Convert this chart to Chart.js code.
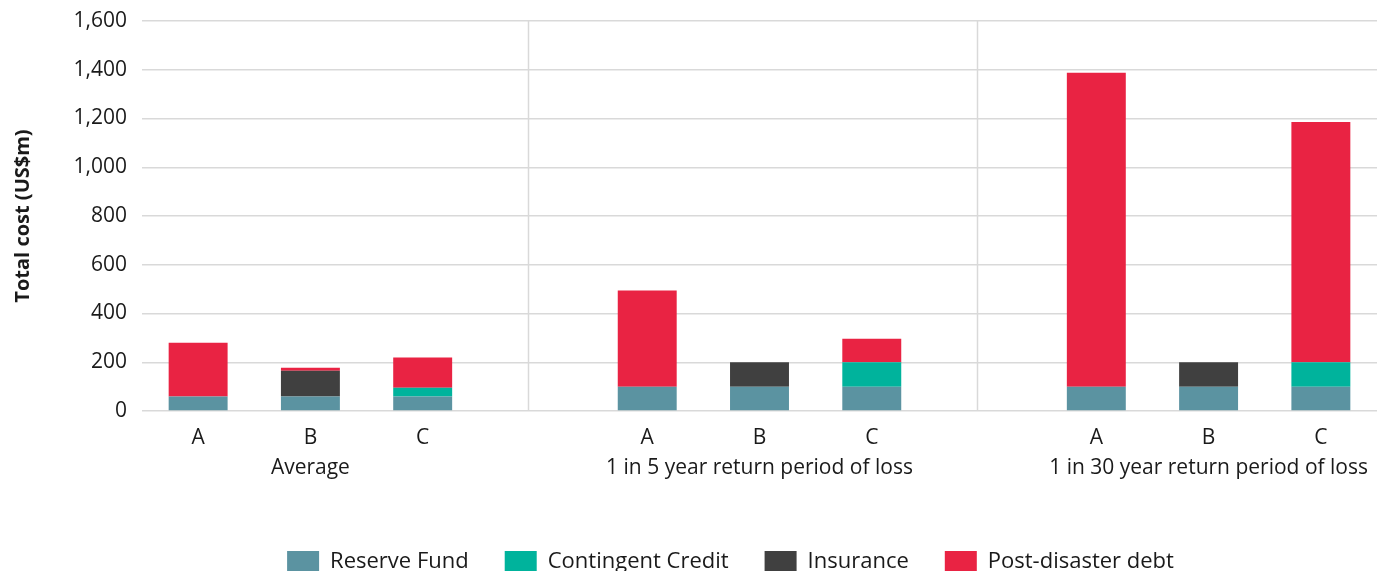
<!DOCTYPE html>
<html>
<head>
<meta charset="utf-8">
<script src="https://cdn.jsdelivr.net/npm/chart.js@4/dist/chart.umd.min.js"></script>
<style>
  html, body { margin: 0; padding: 0; background: #fff; }
  #wrap { width: 1391px; height: 571px; position: relative; }
</style>
</head>
<body>
<div id="wrap"><canvas id="c"></canvas></div>
<script>
// ---- data ----
const categories = ['A', 'B', 'C', '', 'A', 'B', 'C', '', 'A', 'B', 'C'];
const groupLabels = ['', 'Average', '', '', '', '1 in 5 year return period of loss', '', '', '', '1 in 30 year return period of loss', ''];
const reserveFund = [60, 60, 60, null, 100, 100, 100, null, 100, 100, 100];
const contingentCredit = [0, 0, 35, null, 0, 0, 100, null, 0, 0, 100];
const insurance = [0, 105, 0, null, 0, 100, 0, null, 0, 100, 0];
const postDisasterDebt = [220, 12, 124, null, 394, 0, 96, null, 1288, 0, 986];
const yTicks = [0, 200, 400, 600, 800, 1000, 1200, 1400, 1600];

const FONT = "'Open Sans', 'Noto Sans', sans-serif";

const separatorPlugin = {
  id: 'separators',
  afterLayout(chart) {
    // nudge the legend a little to the left, as in the reference
    const l = chart.legend;
    if (l) { l.left -= 29; l.right -= 29; }
  },
  beforeDatasetsDraw(chart) {
    const xs = chart.scales.x;
    const ca = chart.chartArea;
    const ctx = chart.ctx;
    ctx.save();
    ctx.strokeStyle = '#d9d9d9';
    ctx.lineWidth = 1.5;
    [2.94, 6.94].forEach(v => {
      const px = Math.round(xs.getPixelForValue(v)) + 0.5;
      ctx.beginPath();
      ctx.moveTo(px, ca.top);
      ctx.lineTo(px, ca.bottom);
      ctx.stroke();
    });
    ctx.restore();
  }
};

new Chart(document.getElementById('c'), {
  type: 'bar',
  data: {
    labels: categories,
    datasets: [
      { label: 'Reserve Fund', data: reserveFund, backgroundColor: '#5b93a1' },
      { label: 'Contingent Credit', data: contingentCredit, backgroundColor: '#00b39c' },
      { label: 'Insurance', data: insurance, backgroundColor: '#404040' },
      { label: 'Post-disaster debt', data: postDisasterDebt, backgroundColor: '#e92343' }
    ]
  },
  options: {
    responsive: true,
    maintainAspectRatio: false,
    animation: false,
    datasets: { bar: { barPercentage: 1, categoryPercentage: 0.525, borderWidth: 0 } },
    layout: { padding: { top: 0, right: 14, left: 0, bottom: -12 } },
    plugins: {
      tooltip: { enabled: false },
      legend: {
        position: 'bottom',
        fullSize: false,
        labels: {
          boxWidth: 32,
          boxHeight: 22,
          padding: 36,
          color: '#1a1a1a',
          font: { family: FONT, size: 22 }
        }
      }
    },
    scales: {
      x: {
        stacked: true,
        offset: true,
        weight: 0,
        grid: { display: false, drawTicks: false },
        border: { display: false },
        ticks: { color: '#1a1a1a', padding: 14, maxRotation: 0, autoSkip: false, font: { family: FONT, size: 21 } },
        afterFit(axis) { axis.height = 44; }
      },
      x2: {
        type: 'category',
        labels: groupLabels,
        position: 'bottom',
        offset: true,
        weight: 1,
        grid: { display: false, drawTicks: false },
        border: { display: false },
        ticks: { color: '#1a1a1a', padding: 0, maxRotation: 0, autoSkip: false, font: { family: FONT, size: 21 } },
        afterFit(axis) { axis.height = 60; }
      },
      y: {
        stacked: true,
        min: 0,
        max: 1600,
        afterBuildTicks(axis) { axis.ticks = yTicks.map(v => ({ value: v })); },
        grid: { color: '#d9d9d9', lineWidth: 1.5, drawTicks: false },
        border: { display: false },
        ticks: {
          color: '#1a1a1a',
          padding: 15,
          font: { family: FONT, size: 21 },
          callback: (v) => v.toLocaleString('en-US')
        },
        title: {
          display: true,
          text: 'Total cost (US$m)',
          color: '#1a1a1a',
          font: { family: FONT, size: 20, weight: 'bold' },
          padding: { top: 11, bottom: 0 }
        },
        afterFit(axis) { axis.width = 142; axis.paddingTop = 21; }
      }
    }
  },
  plugins: [separatorPlugin]
});
</script>
</body>
</html>
